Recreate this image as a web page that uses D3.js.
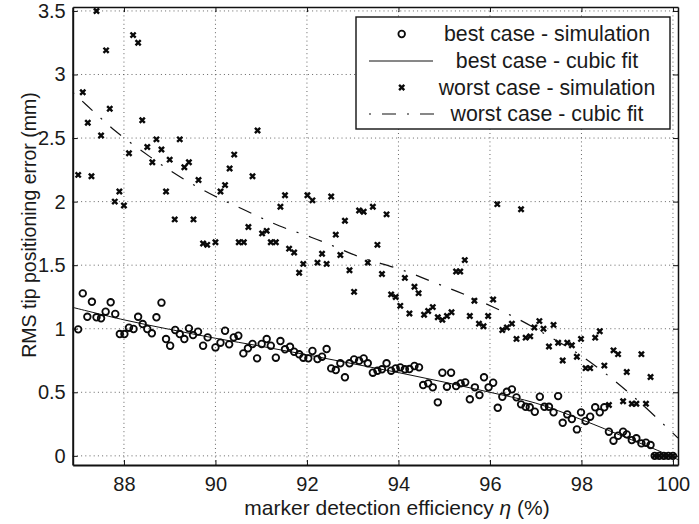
<!DOCTYPE html>
<html>
<head>
<meta charset="utf-8">
<script src="https://cdn.jsdelivr.net/npm/d3@7"></script>
<style>
  html, body { margin: 0; padding: 0; background: #fff; }
  svg { display: block; }
  text { font-family: "Liberation Sans", Arial, Helvetica, sans-serif; fill: #1a1a1a; }
</style>
</head>
<body>
<div id="chart"></div>
<script>
// Best case: simulated RMS tip error versus detection efficiency
const bestX = [87.00,87.10,87.20,87.30,87.40,87.50,87.60,87.71,87.81,87.91,88.01,88.11,88.21,88.31,88.41,88.51,88.61,88.71,88.82,88.92,
  89.01,89.12,89.22,89.32,89.42,89.51,89.62,89.73,89.83,90.00,90.11,90.21,90.30,90.40,90.50,90.61,90.71,90.81,90.91,91.01,
  91.12,91.21,91.32,91.42,91.52,91.63,91.72,91.83,91.92,92.03,92.12,92.23,92.33,92.43,92.53,92.63,92.73,92.83,92.93,93.03,
  93.14,93.24,93.33,93.44,93.54,93.64,93.74,93.84,93.94,94.04,94.14,94.24,94.35,94.45,94.54,94.65,94.75,94.86,94.96,95.06,
  95.15,95.26,95.36,95.46,95.56,95.67,95.77,95.87,95.97,96.07,96.17,96.27,96.37,96.48,96.58,96.68,96.78,96.87,96.98,97.09,
  97.19,97.29,97.39,97.49,97.59,97.69,97.79,97.90,97.99,98.09,98.19,98.30,98.40,98.50,98.60,98.70,98.80,98.91,98.99,99.10,
  99.20,99.31,99.41,99.51,99.60,99.70,99.80,99.90,100.00];
const bestY = [0.995,1.278,1.094,1.212,1.090,1.082,1.134,1.208,1.116,0.958,0.958,1.008,0.998,1.094,1.037,0.998,0.964,1.090,1.205,0.919,
  0.866,0.990,0.958,0.919,1.003,0.950,0.977,0.866,0.932,0.853,0.890,0.984,0.877,0.932,0.945,0.806,0.846,0.880,0.767,0.880,
  0.919,0.866,0.772,0.903,0.838,0.858,0.819,0.799,0.772,0.767,0.825,0.762,0.780,0.840,0.688,0.675,0.728,0.618,0.728,0.759,
  0.748,0.767,0.728,0.654,0.670,0.681,0.728,0.670,0.688,0.696,0.681,0.683,0.707,0.696,0.557,0.570,0.539,0.421,0.654,0.544,
  0.654,0.549,0.570,0.578,0.445,0.539,0.478,0.618,0.539,0.575,0.378,0.465,0.504,0.523,0.460,0.405,0.386,0.382,0.347,0.465,
  0.386,0.386,0.342,0.470,0.260,0.326,0.290,0.208,0.342,0.274,0.308,0.382,0.342,0.382,0.190,0.119,0.158,0.190,0.169,0.124,
  0.138,0.098,0.103,0.085,0,0,0,0,0];

// Worst case: simulated RMS tip error versus detection efficiency
const worstX = [87.00,87.10,87.21,87.29,87.40,87.50,87.61,87.69,87.80,87.90,88.00,88.11,88.20,88.31,88.40,88.51,88.62,88.71,88.82,88.92,
  89.00,89.11,89.22,89.32,89.42,89.52,89.63,89.73,89.82,90.00,90.11,90.21,90.31,90.41,90.51,90.62,90.72,90.81,90.92,91.02,
  91.12,91.21,91.32,91.42,91.52,91.61,91.72,91.83,91.92,92.01,92.12,92.23,92.33,92.43,92.53,92.63,92.73,92.83,92.93,93.03,
  93.14,93.24,93.33,93.44,93.54,93.64,93.74,93.84,93.94,94.04,94.14,94.24,94.35,94.44,94.56,94.65,94.75,94.86,94.96,95.06,
  95.16,95.26,95.35,95.45,95.56,95.66,95.76,95.86,95.96,96.07,96.16,96.27,96.37,96.48,96.58,96.68,96.78,96.88,96.97,97.08,
  97.17,97.29,97.39,97.49,97.59,97.69,97.79,97.90,97.99,98.09,98.19,98.30,98.40,98.50,98.60,98.70,98.80,98.91,98.99,99.10,
  99.20,99.31,99.41,99.51,99.60,99.70,99.80,99.90,100.00];
const worstY = [2.21,2.86,2.62,2.20,3.50,2.52,3.19,2.73,2.00,2.08,1.97,2.38,3.31,3.25,2.64,2.43,2.31,2.49,2.41,2.08,
  2.33,1.86,2.49,2.27,2.31,1.86,2.17,1.67,1.66,1.68,2.08,2.13,2.26,2.37,1.68,1.68,1.80,2.20,2.56,1.75,
  1.77,1.68,1.68,1.96,2.05,1.63,1.60,1.44,1.51,2.05,2.01,1.52,1.59,1.51,2.04,1.74,1.58,1.85,1.46,1.29,
  1.93,1.92,1.52,1.96,1.66,1.43,1.90,1.27,1.25,1.18,1.40,1.12,1.33,1.28,1.11,1.14,1.17,1.09,1.07,1.10,
  1.13,1.45,1.45,1.54,1.10,1.22,1.04,1.02,1.10,1.23,1.98,0.99,1.01,1.04,0.92,1.94,0.93,0.94,1.01,1.06,
  1.00,0.86,1.03,0.89,0.75,0.89,0.87,0.78,0.92,0.69,0.69,0.93,0.98,0.71,0.40,0.83,0.80,0.43,0.66,0.41,
  0.41,0.80,0.41,0.62,0,0,0,0,0];

// Cubic fit curves, sampled across the axis range
const bestFitX = [86.88,88,89,90,91,92,93,94,95,96,97,98,99,99.75,100.11];
const bestFitY = [1.168,1.07,0.995,0.925,0.862,0.795,0.725,0.655,0.58,0.50,0.415,0.285,0.14,0.03,-0.03];
const worstFitX = [86.88,87.18,87.80,88.58,89.25,89.95,90.66,91.39,92.09,92.58,93.15,94.08,94.80,95.56,96.55,97.26,97.94,98.58,99.22,99.83,100.11];
const worstFitY = [2.86,2.76,2.56,2.35,2.19,2.05,1.93,1.81,1.72,1.65,1.565,1.462,1.361,1.252,1.088,0.947,0.80,0.632,0.439,0.236,0.14];

const xTicks = [88,90,92,94,96,98,100];
const yTicks = [0,0.5,1,1.5,2,2.5,3,3.5];
const yTickLabels = ["0","0.5","1","1.5","2","2.5","3","3.5"];
const legendLabels = ["best case - simulation","best case - cubic fit","worst case - simulation","worst case - cubic fit"];
const xTitle = "marker detection efficiency ";
const yTitle = "RMS tip positioning error (mm)";

const W = 699, H = 524;
const L = 72.7, R = 678, T = 7, B = 465;

const svg = d3.select("#chart").append("svg").attr("width", W).attr("height", H);
svg.append("rect").attr("width", W).attr("height", H).attr("fill", "#fff");

const x = d3.scaleLinear().domain([86.88, 100.11]).range([L, R]);
const y = d3.scaleLinear().domain([-0.072, 3.531]).range([B, T]);

svg.append("defs").append("clipPath").attr("id", "plot-clip")
  .append("rect").attr("x", L).attr("y", T).attr("width", R - L).attr("height", B - T);

// dotted grid
const grid = svg.append("g").attr("stroke", "#555").attr("stroke-width", 0.9).attr("stroke-dasharray", "1,3.2");
grid.selectAll(".gx").data(xTicks).join("line")
  .attr("x1", d => x(d)).attr("x2", d => x(d)).attr("y1", T).attr("y2", B);
grid.selectAll(".gy").data(yTicks).join("line")
  .attr("y1", d => y(d)).attr("y2", d => y(d)).attr("x1", L).attr("x2", R);

const plot = svg.append("g").attr("clip-path", "url(#plot-clip)");

// fit curves
const bestFit = bestFitX.map((v, i) => [v, bestFitY[i]]);
const worstFit = worstFitX.map((v, i) => [v, worstFitY[i]]);
const line = d3.line().x(d => x(d[0])).y(d => y(d[1])).curve(d3.curveCatmullRom);

plot.append("path").datum(bestFit).attr("d", line)
  .attr("fill", "none").attr("stroke", "#111").attr("stroke-width", 1);
plot.append("path").datum(worstFit).attr("d", line)
  .attr("fill", "none").attr("stroke", "#111").attr("stroke-width", 1.2)
  .attr("stroke-dasharray", "2,11,14,11");

// markers
const crossPath = "M-2.6,-2.6L2.6,2.6M-2.6,2.6L2.6,-2.6";
const markerColor = "#0a0a0a";
plot.append("g").selectAll("path").data(worstX.map((v, i) => [v, worstY[i]])).join("path")
  .attr("d", crossPath)
  .attr("transform", d => `translate(${x(d[0])},${y(d[1])})`)
  .attr("fill", "none").attr("stroke", markerColor).attr("stroke-width", 2.4);
plot.append("g").selectAll("circle").data(bestX.map((v, i) => [v, bestY[i]])).join("circle")
  .attr("cx", d => x(d[0])).attr("cy", d => y(d[1])).attr("r", 3.3)
  .attr("fill", "none").attr("stroke", markerColor).attr("stroke-width", 1.8);

// axes
const fontTick = "20px";
const xAxis = svg.append("g").attr("transform", `translate(0,${B})`)
  .call(d3.axisBottom(x).tickValues(xTicks).tickSize(-5).tickSizeOuter(0).tickPadding(12).tickFormat(d3.format("d")));
xAxis.selectAll("text").attr("font-size", fontTick).attr("fill", "#1a1a1a").attr("font-family", null);
xAxis.select(".domain").attr("stroke-width", 2);

const yAxis = svg.append("g").attr("transform", `translate(${L},0)`)
  .call(d3.axisLeft(y).tickValues(yTicks).tickSize(-5).tickSizeOuter(0).tickPadding(7)
    .tickFormat((d, i) => yTickLabels[i]));
yAxis.selectAll("text").attr("font-size", fontTick).attr("fill", "#1a1a1a").attr("font-family", null);
yAxis.select(".domain").attr("stroke-width", 2);

const topAxis = svg.append("g").attr("transform", `translate(0,${T})`)
  .call(d3.axisTop(x).tickValues(xTicks).tickSize(-5).tickSizeOuter(0).tickFormat(""));
topAxis.select(".domain").attr("stroke-width", 1.5);
const rightAxis = svg.append("g").attr("transform", `translate(${R},0)`)
  .call(d3.axisRight(y).tickValues(yTicks).tickSize(-5).tickSizeOuter(0).tickFormat(""));
rightAxis.select(".domain").attr("stroke-width", 1.5);
svg.selectAll(".tick line").attr("stroke", "#111");
svg.selectAll(".domain").attr("stroke", "#111");

// axis titles
svg.append("text").attr("x", 397).attr("y", 515).attr("text-anchor", "middle").attr("font-size", "21px")
  .text(xTitle)
  .append("tspan").attr("font-style", "italic").text("η")
  .select(function () { return this.parentNode; })
  .append("tspan").text(" (%)");

svg.append("text").attr("transform", "translate(36,225) rotate(-90)").attr("text-anchor", "middle")
  .attr("font-size", "19.5px").text(yTitle);

// legend
const lg = svg.append("g");
lg.append("rect").attr("x", 356).attr("y", 17).attr("width", 314).attr("height", 112)
  .attr("fill", "#fff").attr("stroke", "#111").attr("stroke-width", 1.4);
const rows = [34, 61, 87.5, 114];
const symX = 401.7;
lg.append("circle").attr("cx", symX).attr("cy", rows[0]).attr("r", 3.3)
  .attr("fill", "none").attr("stroke", markerColor).attr("stroke-width", 1.8);
lg.append("line").attr("x1", 369).attr("x2", 433).attr("y1", rows[1]).attr("y2", rows[1])
  .attr("stroke", "#111").attr("stroke-width", 1);
lg.append("path").attr("d", crossPath).attr("transform", `translate(${symX},${rows[2]})`)
  .attr("fill", "none").attr("stroke", markerColor).attr("stroke-width", 2.4);
lg.append("line").attr("x1", 369).attr("x2", 434).attr("y1", rows[3]).attr("y2", rows[3])
  .attr("stroke", "#111").attr("stroke-width", 1.2).attr("stroke-dasharray", "2,11,14,11");
lg.selectAll(".lt").data(legendLabels).join("text")
  .attr("x", 547).attr("y", (d, i) => rows[i] + 7.3)
  .attr("text-anchor", "middle").attr("font-size", "21.3px").text(d => d);
</script>
</body>
</html>
